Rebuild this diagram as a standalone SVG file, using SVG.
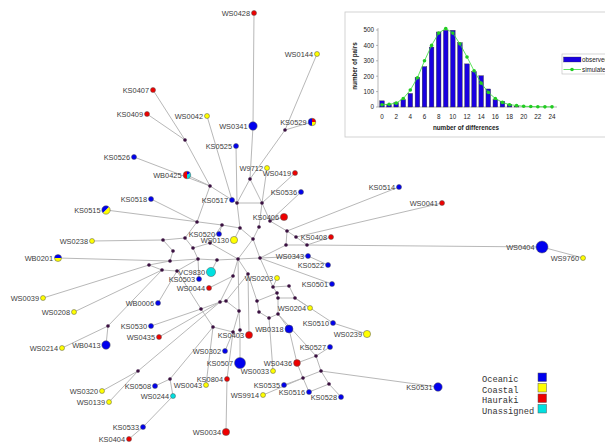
<svg xmlns="http://www.w3.org/2000/svg" width="605" height="446" viewBox="0 0 605 446">
<style>
.e{stroke:#b8b8b8;stroke-width:1;fill:none}
.j{fill:#3a1040}
.n{stroke:#555;stroke-width:.5}
.oc{fill:#0000ee}.co{fill:#ffff00}.ha{fill:#ee0000}.un{fill:#00e0e0}
.lb{font-family:"Liberation Sans",Arial,sans-serif;font-size:7.4px;fill:#3c3c3c;text-anchor:end}
.lg{font-family:"Liberation Mono","Courier New",monospace;font-size:8.7px;fill:#333}
.ct{font-family:"Liberation Sans",Arial,sans-serif;font-size:6.3px;fill:#222}
.bar{fill:#1a00e0;stroke:#333;stroke-width:.4}
</style>
<rect width="605" height="446" fill="#fff"/>
<g id="inset">
<rect x="345" y="12" width="270" height="125" fill="#fff" stroke="#c8c8c8" stroke-width=".8"/>
<g class="ct" text-anchor="end">
<text x="374" y="109.3">0</text><text x="374" y="93.9">100</text><text x="374" y="78.5">200</text><text x="374" y="63.1">300</text><text x="374" y="47.7">400</text><text x="374" y="32.3">500</text>
</g>
<g class="ct" text-anchor="middle">
<text x="382" y="119">0</text><text x="396.2" y="119">2</text><text x="410.3" y="119">4</text><text x="424.5" y="119">6</text><text x="438.7" y="119">8</text><text x="452.8" y="119">10</text><text x="467" y="119">12</text><text x="481.2" y="119">14</text><text x="495.3" y="119">16</text><text x="509.5" y="119">18</text><text x="523.7" y="119">20</text><text x="537.8" y="119">22</text><text x="552" y="119">24</text>
<text x="466" y="130" font-weight="bold">number of differences</text>
<text transform="translate(357,66) rotate(-90)" font-weight="bold">number of pairs</text>
</g>
<path d="M378,28V107H557M376,107H378M376,91.6H378M376,76.2H378M376,60.8H378M376,45.4H378M376,30H378" stroke="#888" stroke-width=".6" fill="none"/>
<g>
<rect class="bar" x="379.7" y="100.84" width="4.6" height="6.16"/>
<rect class="bar" x="386.78" y="104.69" width="4.6" height="2.31"/>
<rect class="bar" x="393.87" y="102.69" width="4.6" height="4.31"/>
<rect class="bar" x="400.95" y="99.61" width="4.6" height="7.39"/>
<rect class="bar" x="408.03" y="93.45" width="4.6" height="13.55"/>
<rect class="bar" x="415.12" y="77.28" width="4.6" height="29.72"/>
<rect class="bar" x="422.2" y="66.65" width="4.6" height="40.35"/>
<rect class="bar" x="429.28" y="47.09" width="4.6" height="59.91"/>
<rect class="bar" x="436.37" y="32" width="4.6" height="75"/>
<rect class="bar" x="443.45" y="30.31" width="4.6" height="76.69"/>
<rect class="bar" x="450.53" y="30.31" width="4.6" height="76.69"/>
<rect class="bar" x="457.62" y="42.78" width="4.6" height="64.22"/>
<rect class="bar" x="464.7" y="63.88" width="4.6" height="43.12"/>
<rect class="bar" x="471.78" y="71.73" width="4.6" height="35.27"/>
<rect class="bar" x="478.87" y="75.74" width="4.6" height="31.26"/>
<rect class="bar" x="485.95" y="88.98" width="4.6" height="18.02"/>
<rect class="bar" x="493.03" y="99.61" width="4.6" height="7.39"/>
<rect class="bar" x="500.12" y="101.3" width="4.6" height="5.7"/>
<rect class="bar" x="507.2" y="104.69" width="4.6" height="2.31"/>
<rect class="bar" x="514.28" y="106.38" width="4.6" height="0.62"/>
</g>
<polyline points="382,104.69 389.08,104.23 396.17,103.15 403.25,98.53 410.33,90.06 417.42,77.74 424.5,60.8 431.58,45.4 438.67,33.08 445.75,28.46 452.83,33.08 459.92,43.86 467,56.95 474.08,70.81 481.17,83.13 488.25,92.37 495.33,98.53 502.42,102.38 509.5,104.69 516.58,105.46 523.67,106.23 530.75,106.54 537.83,106.69 544.92,106.85 552,106.85" fill="none" stroke="#33dd33" stroke-width=".8"/>
<g fill="#22cc22">
<circle cx="382" cy="104.69" r="1.8"/><circle cx="389.08" cy="104.23" r="1.8"/><circle cx="396.17" cy="103.15" r="1.8"/><circle cx="403.25" cy="98.53" r="1.8"/><circle cx="410.33" cy="90.06" r="1.8"/><circle cx="417.42" cy="77.74" r="1.8"/><circle cx="424.5" cy="60.8" r="1.8"/><circle cx="431.58" cy="45.4" r="1.8"/><circle cx="438.67" cy="33.08" r="1.8"/><circle cx="445.75" cy="28.46" r="1.8"/><circle cx="452.83" cy="33.08" r="1.8"/><circle cx="459.92" cy="43.86" r="1.8"/><circle cx="467" cy="56.95" r="1.8"/><circle cx="474.08" cy="70.81" r="1.8"/><circle cx="481.17" cy="83.13" r="1.8"/><circle cx="488.25" cy="92.37" r="1.8"/><circle cx="495.33" cy="98.53" r="1.8"/><circle cx="502.42" cy="102.38" r="1.8"/><circle cx="509.5" cy="104.69" r="1.8"/><circle cx="516.58" cy="105.46" r="1.8"/><circle cx="523.67" cy="106.23" r="1.8"/><circle cx="530.75" cy="106.54" r="1.8"/><circle cx="537.83" cy="106.69" r="1.8"/><circle cx="544.92" cy="106.85" r="1.8"/><circle cx="552" cy="106.85" r="1.8"/>
</g>
<rect x="562" y="54" width="50" height="20" fill="#fff" stroke="#bbb" stroke-width=".6"/>
<rect x="563.5" y="57" width="17.5" height="5" fill="#1a00e0" stroke="#333" stroke-width=".3"/>
<text class="ct" x="582" y="62">observed</text>
<path d="M563.5,69.5H581" stroke="#33dd33" stroke-width=".8"/><circle cx="572" cy="69.5" r="1.8" fill="#22cc22"/>
<text class="ct" x="582" y="71.5">simulated</text>
</g>
<g id="connectors" class="e">
<path d="M254,13L253,126L250,179M317,54L285,130L250,179M312,122L285,130M153,90L185,140L210,186M147,114L185,140M207,116L232,200M236,146L237,203M134,157L210,186M187,175L210,186M267,168L262,203M295,173L262,203M301,192L270,221M232,200L237,203M151,199L197,222M106,210L222,225M399,187L287,231M442,203L296,237M284,217L270,221M331,237L307,245M219,234L222,225M234,240L240,228M92,241L163,240M542,247L307,245M583,258L542,247M308,256L260,258M328,265L308,256M58,258L170,261M211,272L217,260M199,279L198,259M209,288L233,276M277,278L273,287M332,284L260,258M43,298L149,265M158,303L177,271M74,312L162,270M310,308L295,298M151,326L201,309M295,298L333,323L367,334M289,329L278,314M249,335L248,274M159,337L220,302M62,348L108,326L162,270M106,345L108,326M330,347L316,356M225,351L233,332M240,363L240,330M297,363L316,356M297,363L289,329M297,363L303,378M273,371L269,318M233,332L227,379L226,432M206,385L213,327M284,385L303,378M263,395L303,378M303,378L309,392L329,384M341,397L329,384M316,356L321,371L329,384M321,371L303,378M438,387L321,371M155,386L170,379M173,396L170,379M170,379L213,327M102,391L138,371M109,402L138,371M138,371L220,302M173,396L143,427L129,439M316,356L278,314"/>
<path d="M250,179L262,203M250,179L237,203M210,186L197,222M210,186L237,203M237,203L240,228M262,203L259,227M262,203L270,221M237,203L262,203M270,221L287,231M287,231L296,237M287,231L286,245M296,237L307,245M286,245L307,245M259,227L253,239M240,228L253,239M197,222L185,238M222,225L240,228M222,225L210,243M185,238L163,240M185,238L193,248M163,240L173,251M173,251L170,261M193,248L210,243M193,248L198,259M210,243L238,259M253,239L238,259M253,239L260,258M286,245L260,258M170,261L198,259M170,261L149,265M149,265L162,270M162,270L177,271M198,259L177,271M198,259L217,260M217,260L238,259M238,259L260,258M238,259L233,276M238,259L248,274M260,258L273,287M273,287L289,286M273,287L277,293M277,293L278,298M289,286L295,298M278,298L295,298M177,271L201,309M233,276L220,302M220,302L226,301M226,301L248,274M248,274L257,301M257,301L259,312M278,298L278,314M259,312L269,318M278,314L269,318M226,301L239,311M239,311L240,330M239,311L233,332M201,309L213,327M213,327L233,332M220,302L201,309M238,259L239,311M257,301L277,293"/>
</g>
<g id="junctions" class="j">
<circle cx="185" cy="140" r="1.8"/><circle cx="285" cy="130" r="1.8"/><circle cx="250" cy="179" r="1.8"/><circle cx="210" cy="186" r="1.8"/><circle cx="237" cy="203" r="1.8"/><circle cx="262" cy="203" r="1.8"/><circle cx="197" cy="222" r="1.8"/><circle cx="222" cy="225" r="1.8"/><circle cx="240" cy="228" r="1.8"/><circle cx="259" cy="227" r="1.8"/><circle cx="270" cy="221" r="1.8"/><circle cx="287" cy="231" r="1.8"/><circle cx="296" cy="237" r="1.8"/><circle cx="286" cy="245" r="1.8"/><circle cx="307" cy="245" r="1.8"/><circle cx="253" cy="239" r="1.8"/><circle cx="185" cy="238" r="1.8"/><circle cx="163" cy="240" r="1.8"/><circle cx="173" cy="251" r="1.8"/><circle cx="193" cy="248" r="1.8"/><circle cx="210" cy="243" r="1.8"/><circle cx="238" cy="259" r="1.8"/><circle cx="260" cy="258" r="1.8"/><circle cx="170" cy="261" r="1.8"/><circle cx="198" cy="259" r="1.8"/><circle cx="149" cy="265" r="1.8"/><circle cx="162" cy="270" r="1.8"/><circle cx="177" cy="271" r="1.8"/><circle cx="217" cy="260" r="1.8"/><circle cx="233" cy="276" r="1.8"/><circle cx="248" cy="274" r="1.8"/><circle cx="273" cy="287" r="1.8"/><circle cx="289" cy="286" r="1.8"/><circle cx="277" cy="293" r="1.8"/><circle cx="278" cy="298" r="1.8"/><circle cx="295" cy="298" r="1.8"/><circle cx="220" cy="302" r="1.8"/><circle cx="226" cy="301" r="1.8"/><circle cx="257" cy="301" r="1.8"/><circle cx="239" cy="311" r="1.8"/><circle cx="201" cy="309" r="1.8"/><circle cx="259" cy="312" r="1.8"/><circle cx="278" cy="314" r="1.8"/><circle cx="269" cy="318" r="1.8"/><circle cx="213" cy="327" r="1.8"/><circle cx="240" cy="330" r="1.8"/><circle cx="233" cy="332" r="1.8"/><circle cx="108" cy="326" r="1.8"/><circle cx="138" cy="371" r="1.8"/><circle cx="170" cy="379" r="1.8"/><circle cx="316" cy="356" r="1.8"/><circle cx="321" cy="371" r="1.8"/><circle cx="303" cy="378" r="1.8"/><circle cx="329" cy="384" r="1.8"/>
</g>
<g id="n-WS0428"><circle class="n ha" cx="254" cy="13" r="2.5"/><text class="lb" x="250" y="15.6">WS0428</text></g>
<g id="n-WS0144"><circle class="n co" cx="317" cy="54" r="2.5"/><text class="lb" x="313" y="56.6">WS0144</text></g>
<g id="n-KS0407"><circle class="n ha" cx="153" cy="90" r="2.5"/><text class="lb" x="149" y="92.6">KS0407</text></g>
<g id="n-KS0409"><circle class="n ha" cx="147" cy="114" r="2.5"/><text class="lb" x="143" y="116.6">KS0409</text></g>
<g id="n-WS0042"><circle class="n co" cx="207" cy="116" r="2.5"/><text class="lb" x="203" y="118.6">WS0042</text></g>
<g id="n-WS0341"><circle class="n oc" cx="253" cy="126" r="4.2"/><text class="lb" x="247.5" y="128.6">WS0341</text></g>
<g id="n-KS0529"><path class="oc" d="M312,122L312,118.2A3.8,3.8 0 0 0 312,125.8Z"/><path class="ha" d="M312,122L312,118.2A3.8,3.8 0 0 1 315.8,122Z"/><path class="co" d="M312,122L315.8,122A3.8,3.8 0 0 1 312,125.8Z"/><circle cx="312" cy="122" r="3.8" fill="none" stroke="#555" stroke-width=".5"/><text class="lb" x="306.5" y="124.6">KS0529</text></g>
<g id="n-KS0525"><circle class="n oc" cx="236" cy="146" r="2.5"/><text class="lb" x="232" y="148.6">KS0525</text></g>
<g id="n-KS0526"><circle class="n oc" cx="134" cy="157" r="2.5"/><text class="lb" x="130" y="159.6">KS0526</text></g>
<g id="n-WB0425"><path class="oc" d="M187,175L187,171.2A3.8,3.8 0 0 1 190.29,173.1Z"/><path class="un" d="M187,175L190.29,173.1A3.8,3.8 0 0 1 187,178.8Z"/><path class="ha" d="M187,175L187,178.8A3.8,3.8 0 0 1 187,171.2Z"/><circle cx="187" cy="175" r="3.8" fill="none" stroke="#555" stroke-width=".5"/><text class="lb" x="181.5" y="177.6">WB0425</text></g>
<g id="n-W9712"><circle class="n co" cx="267" cy="168" r="2.5"/><text class="lb" x="263" y="170.6">W9712</text></g>
<g id="n-WS0419"><circle class="n ha" cx="295" cy="173" r="2.5"/><text class="lb" x="291" y="175.6">WS0419</text></g>
<g id="n-KS0536"><circle class="n oc" cx="301" cy="192" r="2.5"/><text class="lb" x="297" y="194.6">KS0536</text></g>
<g id="n-KS0518"><circle class="n oc" cx="151" cy="199" r="2.5"/><text class="lb" x="147" y="201.6">KS0518</text></g>
<g id="n-KS0517"><circle class="n oc" cx="232" cy="200" r="2.5"/><text class="lb" x="228" y="202.6">KS0517</text></g>
<g id="n-KS0515"><path class="oc" d="M106,210L108.97,207.03A4.2,4.2 0 0 0 103.03,212.97Z"/><path class="co" d="M106,210L108.97,207.03A4.2,4.2 0 0 1 103.03,212.97Z"/><circle cx="106" cy="210" r="4.2" fill="none" stroke="#555" stroke-width=".5"/><text class="lb" x="100.5" y="212.6">KS0515</text></g>
<g id="n-KS0514"><circle class="n oc" cx="399" cy="187" r="2.5"/><text class="lb" x="395" y="189.6">KS0514</text></g>
<g id="n-WS0041"><circle class="n ha" cx="442" cy="203" r="2.5"/><text class="lb" x="438" y="205.6">WS0041</text></g>
<g id="n-KS0406"><circle class="n ha" cx="284" cy="217" r="3.6"/><text class="lb" x="279" y="219.6">KS0406</text></g>
<g id="n-KS0408"><circle class="n ha" cx="331" cy="237" r="2.5"/><text class="lb" x="327" y="239.6">KS0408</text></g>
<g id="n-KS0520"><circle class="n oc" cx="219" cy="234" r="2.5"/><text class="lb" x="215" y="236.6">KS0520</text></g>
<g id="n-WS0130"><circle class="n co" cx="234" cy="240" r="3.6"/><text class="lb" x="229" y="242.6">WS0130</text></g>
<g id="n-WS0238"><circle class="n co" cx="92" cy="241" r="2.5"/><text class="lb" x="88" y="243.6">WS0238</text></g>
<g id="n-WS0404"><circle class="n oc" cx="542" cy="247" r="6"/><text class="lb" x="534.5" y="249.6">WS0404</text></g>
<g id="n-WS9760"><circle class="n co" cx="583" cy="258" r="2.5"/><text class="lb" x="579" y="260.6">WS9760</text></g>
<g id="n-WS0343"><circle class="n oc" cx="308" cy="256" r="2.5"/><text class="lb" x="304" y="258.6">WS0343</text></g>
<g id="n-KS0522"><circle class="n oc" cx="328" cy="265" r="2.5"/><text class="lb" x="324" y="267.6">KS0522</text></g>
<g id="n-WB0201"><path class="oc" d="M54.5,258A3.5,3.5 0 0 1 61.5,258Z"/><path class="co" d="M54.5,258A3.5,3.5 0 0 0 61.5,258Z"/><circle cx="58" cy="258" r="3.5" fill="none" stroke="#555" stroke-width=".5"/><text class="lb" x="53" y="260.6">WB0201</text></g>
<g id="n-VC9830"><circle class="n un" cx="211" cy="272" r="4.6"/><text class="lb" x="205" y="274.6">VC9830</text></g>
<g id="n-KS0503"><circle class="n oc" cx="199" cy="279" r="2.5"/><text class="lb" x="195" y="281.6">KS0503</text></g>
<g id="n-WS0044"><circle class="n ha" cx="209" cy="288" r="2.5"/><text class="lb" x="205" y="290.6">WS0044</text></g>
<g id="n-WS0203"><circle class="n co" cx="277" cy="278" r="2.5"/><text class="lb" x="273" y="280.6">WS0203</text></g>
<g id="n-KS0501"><circle class="n oc" cx="332" cy="284" r="2.5"/><text class="lb" x="328" y="286.6">KS0501</text></g>
<g id="n-WS0039"><circle class="n co" cx="43" cy="298" r="2.5"/><text class="lb" x="39" y="300.6">WS0039</text></g>
<g id="n-WB0006"><circle class="n oc" cx="158" cy="303" r="2.5"/><text class="lb" x="154" y="305.6">WB0006</text></g>
<g id="n-WS0208"><circle class="n co" cx="74" cy="312" r="2.5"/><text class="lb" x="70" y="314.6">WS0208</text></g>
<g id="n-WS0204"><circle class="n co" cx="310" cy="308" r="2.5"/><text class="lb" x="306" y="310.6">WS0204</text></g>
<g id="n-KS0530"><circle class="n oc" cx="151" cy="326" r="2.5"/><text class="lb" x="147" y="328.6">KS0530</text></g>
<g id="n-KS0510"><circle class="n oc" cx="333" cy="323" r="2.5"/><text class="lb" x="329" y="325.6">KS0510</text></g>
<g id="n-WS0239"><circle class="n co" cx="367" cy="334" r="3.6"/><text class="lb" x="362" y="336.6">WS0239</text></g>
<g id="n-WB0318"><circle class="n oc" cx="289" cy="329" r="4"/><text class="lb" x="283.5" y="331.6">WB0318</text></g>
<g id="n-KS0403"><circle class="n ha" cx="249" cy="335" r="3.5"/><text class="lb" x="244" y="337.6">KS0403</text></g>
<g id="n-WS0435"><circle class="n ha" cx="159" cy="337" r="2.5"/><text class="lb" x="155" y="339.6">WS0435</text></g>
<g id="n-WS0214"><circle class="n co" cx="62" cy="348" r="2.5"/><text class="lb" x="58" y="350.6">WS0214</text></g>
<g id="n-WB0413"><circle class="n oc" cx="106" cy="345" r="4.2"/><text class="lb" x="100.5" y="347.6">WB0413</text></g>
<g id="n-KS0527"><circle class="n oc" cx="330" cy="347" r="2.5"/><text class="lb" x="326" y="349.6">KS0527</text></g>
<g id="n-WS0302"><circle class="n oc" cx="225" cy="351" r="2.5"/><text class="lb" x="221" y="353.6">WS0302</text></g>
<g id="n-KS0507"><circle class="n oc" cx="240" cy="363" r="5.5"/><text class="lb" x="233" y="365.6">KS0507</text></g>
<g id="n-WS0436"><circle class="n ha" cx="297" cy="363" r="3.4"/><text class="lb" x="292" y="365.6">WS0436</text></g>
<g id="n-WS0033"><circle class="n co" cx="273" cy="371" r="2.5"/><text class="lb" x="269" y="373.6">WS0033</text></g>
<g id="n-KS0804"><circle class="n ha" cx="227" cy="379" r="2.5"/><text class="lb" x="223" y="381.6">KS0804</text></g>
<g id="n-WS0043"><circle class="n co" cx="206" cy="385" r="2.5"/><text class="lb" x="202" y="387.6">WS0043</text></g>
<g id="n-KS0535"><circle class="n oc" cx="284" cy="385" r="2.5"/><text class="lb" x="280" y="387.6">KS0535</text></g>
<g id="n-KS0508"><circle class="n oc" cx="155" cy="386" r="2.5"/><text class="lb" x="151" y="388.6">KS0508</text></g>
<g id="n-KS0531"><circle class="n oc" cx="438" cy="387" r="4.2"/><text class="lb" x="432.5" y="389.6">KS0531</text></g>
<g id="n-WS0320"><circle class="n co" cx="102" cy="391" r="2.5"/><text class="lb" x="98" y="393.6">WS0320</text></g>
<g id="n-WS9914"><circle class="n co" cx="263" cy="395" r="2.5"/><text class="lb" x="259" y="397.6">WS9914</text></g>
<g id="n-KS0516"><circle class="n oc" cx="309" cy="392" r="2.5"/><text class="lb" x="305" y="394.6">KS0516</text></g>
<g id="n-WS0244"><circle class="n un" cx="173" cy="396" r="2.5"/><text class="lb" x="169" y="398.6">WS0244</text></g>
<g id="n-KS0528"><circle class="n oc" cx="341" cy="397" r="2.5"/><text class="lb" x="337" y="399.6">KS0528</text></g>
<g id="n-WS0139"><circle class="n co" cx="109" cy="402" r="2.5"/><text class="lb" x="105" y="404.6">WS0139</text></g>
<g id="n-KS0533"><circle class="n oc" cx="143" cy="427" r="2.5"/><text class="lb" x="139" y="429.6">KS0533</text></g>
<g id="n-WS0034"><circle class="n ha" cx="226" cy="432" r="3.6"/><text class="lb" x="221" y="434.6">WS0034</text></g>
<g id="n-KS0404"><circle class="n ha" cx="129" cy="439" r="2.5"/><text class="lb" x="125" y="441.6">KS0404</text></g>
<g id="legend">
<text class="lg" x="482" y="382">Oceanic</text><rect class="n oc" x="538" y="373" width="8.5" height="8.5"/>
<text class="lg" x="482" y="392.5">Coastal</text><rect class="n co" x="538" y="383.5" width="8.5" height="8.5"/>
<text class="lg" x="482" y="403">Hauraki</text><rect class="n ha" x="538" y="394" width="8.5" height="8.5"/>
<text class="lg" x="482" y="413.5">Unassigned</text><rect class="n un" x="538" y="404.5" width="8.5" height="8.5"/>
</g>
</svg>
